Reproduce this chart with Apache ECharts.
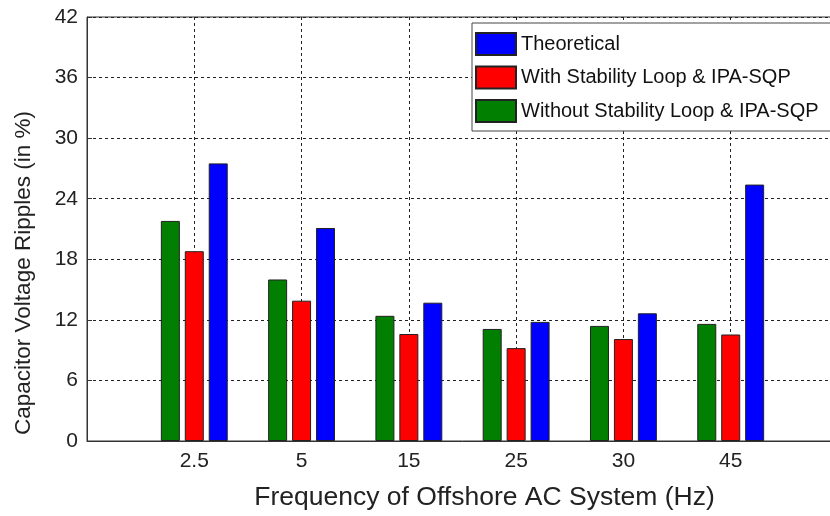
<!DOCTYPE html>
<html>
<head>
<meta charset="utf-8">
<script src="https://cdn.jsdelivr.net/npm/echarts@6/dist/echarts.min.js"></script>
<style>html,body{margin:0;padding:0;background:#fff;overflow:hidden}#c{width:900px;height:516px}</style>
</head>
<body>
<div id="c"></div>
<script>
var categories = ['2.5', '5', '15', '25', '30', '45'];
var withoutLoop = [21.8, 16.0, 12.4, 11.1, 11.4, 11.6];
var withLoop = [18.8, 13.9, 10.6, 9.2, 10.1, 10.55];
var theoretical = [27.5, 21.1, 13.7, 11.8, 12.65, 25.4];
var yTicks = [0, 6, 12, 18, 24, 30, 36, 42];

function pairs(arr) { return arr.map(function (v, i) { return [i + 1, v]; }); }

var chart = echarts.init(document.getElementById('c'));
var font = 'Liberation Sans, Arial, sans-serif';
var gridLine = { show: true, lineStyle: { color: '#222', type: [3, 3], width: 1 } };
function bar(name, data, color) {
  return {
    name: name, type: 'bar', data: pairs(data), barWidth: 19, barGap: '26%',
    itemStyle: { color: color, borderColor: '#222', borderWidth: 1 }
  };
}
chart.setOption({
  animation: false,
  backgroundColor: '#fff',
  grid: { left: 87, top: 17, width: 751, bottom: 72, show: true, borderColor: '#333', borderWidth: 1 },
  legend: {
    orient: 'vertical', left: 472, top: 23,
    padding: [9, 50, 8, 3], itemGap: 9.5,
    itemWidth: 40, itemHeight: 22, icon: 'rect',
    backgroundColor: '#fff', borderColor: '#444', borderWidth: 1,
    textStyle: { fontFamily: font, fontSize: 20, color: '#111' },
    data: ['Theoretical', 'With Stability Loop & IPA-SQP', 'Without Stability Loop & IPA-SQP']
  },
  xAxis: {
    type: 'value', min: 0, max: 7, interval: 1,
    name: 'Frequency of Offshore AC System (Hz)', nameLocation: 'middle', nameGap: 43,
    nameTextStyle: { fontFamily: font, fontSize: 26.5, color: '#222', padding: [0, 0, 0, 44] },
    axisLine: { show: true, lineStyle: { color: '#333' } },
    axisTick: { show: true, inside: true, length: 5, lineStyle: { color: '#333' } },
    axisLabel: {
      fontFamily: font, fontSize: 21, color: '#222', margin: 10,
      formatter: function (v) { return categories[v - 1] || ''; }
    },
    splitLine: gridLine
  },
  yAxis: {
    type: 'value', min: yTicks[0], max: yTicks[yTicks.length - 1], interval: 6,
    name: 'Capacitor Voltage Ripples (in %)', nameLocation: 'middle', nameGap: 52,
    nameTextStyle: { fontFamily: font, fontSize: 22.5, color: '#222', padding: [0, 88, 0, 0] },
    axisLine: { show: true, lineStyle: { color: '#333' } },
    axisTick: { show: true, inside: true, length: 5, lineStyle: { color: '#333' } },
    axisLabel: { fontFamily: font, fontSize: 21, color: '#222', margin: 9 },
    splitLine: gridLine
  },
  series: [
    bar('Without Stability Loop & IPA-SQP', withoutLoop, '#007f00'),
    bar('With Stability Loop & IPA-SQP', withLoop, '#ff0000'),
    bar('Theoretical', theoretical, '#0000ff')
  ]
});
</script>
</body>
</html>
